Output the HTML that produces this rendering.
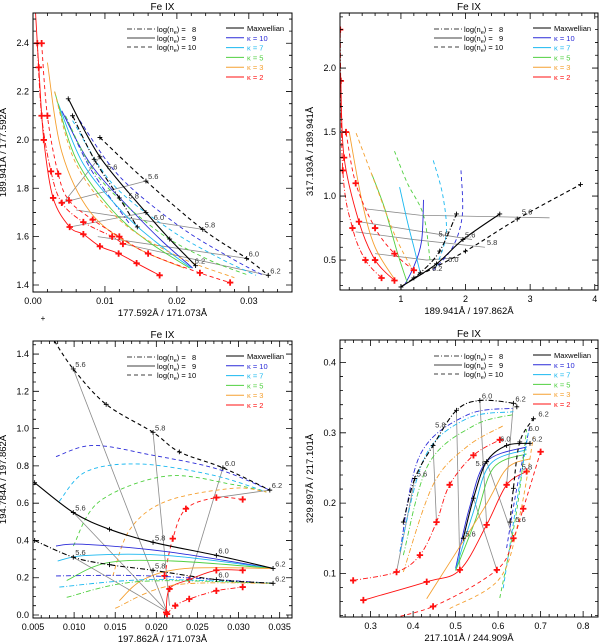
<!DOCTYPE html>
<html><head><meta charset="utf-8"><style>
html,body{margin:0;padding:0;background:#fff}
svg{display:block;font-family:"Liberation Sans",sans-serif}
</style></head><body>
<svg id="fig" width="600" height="644" viewBox="0 0 600 644"></svg>
<script>
// ---------- data (ratio curves) ----------
// Panel 1
const p1_k0_n10=[[0.0093,2.01],[0.0157,1.83],[0.0236,1.63],[0.0297,1.51],[0.0327,1.44]];
const p1_k0_n9=[[0.0049,2.17],[0.0093,1.93],[0.0157,1.70],[0.019,1.59],[0.0226,1.48]];
const p1_k0_n8=[[0.0055,2.1],[0.0085,1.92],[0.012,1.76],[0.0145,1.64]];
const p1_k10_n10=[[0.0065,2.08],[0.012,1.85],[0.02,1.65],[0.027,1.52],[0.032,1.44]];
const p1_k10_n9=[[0.004,2.12],[0.008,1.9],[0.014,1.7],[0.018,1.58],[0.0222,1.47]];
const p1_k10_n8=[[0.0045,2.1],[0.008,1.88],[0.0135,1.65]];
const p1_k7_n10=[[0.0055,2.08],[0.011,1.82],[0.019,1.63],[0.026,1.51],[0.031,1.44]];
const p1_k7_n9=[[0.0035,2.15],[0.007,1.9],[0.0125,1.7],[0.017,1.58],[0.022,1.47]];
const p1_k5_n10=[[0.0045,2.1],[0.009,1.85],[0.017,1.63],[0.024,1.51],[0.03,1.44]];
const p1_k5_n9=[[0.003,2.2],[0.006,1.92],[0.011,1.71],[0.016,1.58],[0.0218,1.47]];
const p1_k3_n10=[[0.003,2.2],[0.006,1.9],[0.012,1.67],[0.02,1.52],[0.028,1.43]];
const p1_k3_n9=[[0.002,2.32],[0.004,1.95],[0.008,1.7],[0.014,1.56],[0.021,1.47]];
const p1_k2_n10=[[0.0012,2.4],[0.002,2.1],[0.0035,1.86],[0.005,1.75],[0.0083,1.67],[0.012,1.6],[0.016,1.53],[0.0232,1.45],[0.0274,1.41]];
const p1_k2_n9=[[0.0003,2.55],[0.0008,2.3],[0.0015,2.0],[0.0028,1.76],[0.0051,1.64],[0.007,1.61],[0.0093,1.56],[0.0119,1.53],[0.0144,1.49],[0.0176,1.44]];
const p1_k2_n8=[[0.0006,2.4],[0.0012,2.1],[0.0025,1.87],[0.004,1.74],[0.007,1.66],[0.011,1.6],[0.0125,1.57]];
const p1_iso=[[[0.004,1.74],[0.0157,1.83]],[[0.006,1.71],[0.0236,1.63]],[[0.009,1.6],[0.0297,1.51]],[[0.0125,1.57],[0.0327,1.44]],[[0.0045,1.75],[0.0093,1.93]],[[0.0051,1.64],[0.0157,1.70]]];
const p1_lbl=[["5.6",0.0157,1.83],["5.8",0.0236,1.63],["6.0",0.0297,1.51],["6.2",0.0327,1.44],["5.6",0.0100,1.87],["5.8",0.0130,1.75],["6.0",0.0165,1.66],["6.2",0.0222,1.48]];
// Panel 2
const p2_k0_n10=[[1.2,0.36],[2.0,0.57],[2.8,0.82],[3.78,1.09]];
const p2_k0_n9=[[1.0,0.29],[1.55,0.47],[1.96,0.66],[2.53,0.86]];
const p2_k0_n8=[[1.0,0.29],[1.3,0.4],[1.6,0.57],[1.86,0.86]];
const p2_k10_n10=[[1.5,0.42],[1.8,0.6],[1.95,0.85],[1.93,1.2]];
const p2_k10_n9=[[1.05,0.3],[1.2,0.45],[1.32,0.65],[1.35,0.97]];
const p2_k7_n10=[[1.55,0.45],[1.7,0.7],[1.65,1.0],[1.5,1.28]];
const p2_k7_n9=[[1.3,0.4],[1.2,0.6],[1.1,0.8],[0.98,1.07]];
const p2_k5_n10=[[1.45,0.5],[1.35,0.85],[1.1,1.1],[0.9,1.35]];
const p2_k5_n9=[[1.1,0.32],[0.95,0.55],[0.75,0.9],[0.55,1.17]];
const p2_k3_n10=[[1.15,0.45],[0.9,0.7],[0.6,1.1],[0.3,1.5]];
const p2_k3_n9=[[0.9,0.35],[0.6,0.6],[0.4,0.95],[0.2,1.5]];
const p2_k2_n10=[[1.2,0.42],[0.9,0.55],[0.6,0.75],[0.3,1.1],[0.15,1.5]];
const p2_k2_n9=[[0.9,0.34],[0.6,0.5],[0.35,0.8],[0.12,1.3],[0.07,1.9]];
const p2_k2_n8=[[0.7,0.36],[0.45,0.5],[0.25,0.75],[0.1,1.2],[0.06,2.3]];
const p2_iso=[[[0.45,0.9],[1.3,0.85],[3.3,0.83]],[[0.35,0.8],[1.6,0.7],[2.1,0.66]],[[0.3,0.72],[1.2,0.66],[2.3,0.6]],[[0.6,0.55],[1.4,0.5],[1.9,0.52]]];
const p2_lbl=[["5.6",2.84,0.84],["5.6",1.96,0.66],["5.6",1.55,0.67],["5.8",2.3,0.6],["6.0",1.7,0.47],["6.2",1.45,0.4]];
// Panel 3
const p3_k0_n10=[[0.0076,1.47],[0.0099,1.32],[0.0139,1.13],[0.0196,0.98],[0.0228,0.875],[0.0281,0.79],[0.0338,0.67]];
const p3_k0_n9=[[0.0052,0.71],[0.0099,0.55],[0.0143,0.46],[0.0196,0.39],[0.0273,0.32],[0.0342,0.25]];
const p3_k0_n8=[[0.0052,0.40],[0.0099,0.31],[0.0143,0.27],[0.0196,0.24],[0.0273,0.19],[0.0342,0.17]];
const p3_k10_n10=[[0.0078,0.85],[0.0123,0.91],[0.0192,0.86],[0.0273,0.785],[0.0338,0.67]];
const p3_k7_n10=[[0.0082,0.61],[0.0115,0.77],[0.018,0.81],[0.0269,0.75],[0.0334,0.66]];
const p3_k5_n10=[[0.0099,0.37],[0.0131,0.61],[0.0212,0.745],[0.0293,0.70],[0.0334,0.66]];
const p3_k3_n10=[[0.0147,0.21],[0.0168,0.46],[0.0212,0.61],[0.0293,0.68],[0.0334,0.66]];
const p3_k2_n10=[[0.021,0.21],[0.022,0.41],[0.0236,0.57],[0.0273,0.63],[0.0305,0.62]];
const p3_k10_n9=[[0.0078,0.37],[0.011,0.38],[0.0212,0.34],[0.0342,0.25]];
const p3_k7_n9=[[0.008,0.29],[0.0115,0.32],[0.0212,0.32],[0.0342,0.25]];
const p3_k5_n9=[[0.0091,0.185],[0.014,0.28],[0.022,0.29],[0.0342,0.25]];
const p3_k3_n9=[[0.0155,0.077],[0.0184,0.19],[0.0236,0.25],[0.0342,0.25]];
const p3_k2_n9=[[0.0212,0.014],[0.0216,0.14],[0.024,0.19],[0.0273,0.24],[0.0305,0.24]];
const p3_k10_n8=[[0.0078,0.21],[0.0192,0.21],[0.0342,0.17]];
const p3_k7_n8=[[0.0082,0.15],[0.0192,0.19],[0.0342,0.17]];
const p3_k5_n8=[[0.0091,0.095],[0.018,0.18],[0.0342,0.17]];
const p3_k3_n8=[[0.015,0.036],[0.022,0.16],[0.0342,0.17]];
const p3_k2_n8=[[0.0213,0.005],[0.0223,0.05],[0.024,0.086],[0.0273,0.13],[0.0305,0.15]];
const p3_iso=[[[0.0099,1.32],[0.0212,0.03]],[[0.0196,0.98],[0.0216,0.05]],[[0.0281,0.79],[0.024,0.19]],[[0.0099,0.55],[0.0213,0.02]],[[0.0099,0.31],[0.0212,0.02]],[[0.0338,0.67],[0.0273,0.63]]];
const p3_lbl=[["5.6",0.0099,1.32],["5.8",0.0196,0.98],["6.0",0.0281,0.79],["6.2",0.0338,0.67],["5.6",0.0099,0.55],["5.8",0.0196,0.39],["6.0",0.0273,0.32],["6.2",0.0342,0.25],["5.6",0.0099,0.31],["5.8",0.0196,0.24],["6.0",0.0273,0.19],["6.2",0.0342,0.17]];
// Panel 4
const p4_k0_n8=[[0.377,0.173],[0.404,0.235],[0.447,0.282],[0.502,0.332],[0.557,0.346],[0.636,0.342],[0.644,0.337]];
const p4_k0_n9=[[0.518,0.15],[0.542,0.207],[0.573,0.259],[0.62,0.282],[0.675,0.285]];
const p4_k0_n10=[[0.628,0.173],[0.636,0.221],[0.651,0.287],[0.683,0.32]];
const p4_k10_n8=[[0.369,0.131],[0.416,0.268],[0.526,0.325],[0.636,0.335]];
const p4_k7_n8=[[0.369,0.131],[0.428,0.266],[0.526,0.32],[0.636,0.33]];
const p4_k5_n8=[[0.377,0.126],[0.436,0.255],[0.542,0.31],[0.636,0.326]];
const p4_k3_n8=[[0.377,0.102],[0.447,0.226],[0.526,0.28],[0.612,0.31]];
const p4_k2_n8=[[0.259,0.09],[0.361,0.102],[0.416,0.126],[0.455,0.173],[0.486,0.226],[0.542,0.268],[0.604,0.29]];
const p4_k10_n9=[[0.5,0.107],[0.532,0.192],[0.573,0.259],[0.667,0.28]];
const p4_k7_n9=[[0.5,0.105],[0.54,0.184],[0.581,0.255],[0.667,0.276]];
const p4_k5_n9=[[0.5,0.104],[0.546,0.175],[0.589,0.25],[0.667,0.27]];
const p4_k3_n9=[[0.432,0.064],[0.566,0.192],[0.62,0.249],[0.675,0.263]];
const p4_k2_n9=[[0.283,0.062],[0.432,0.088],[0.51,0.105],[0.573,0.169],[0.62,0.226],[0.667,0.245]];
const p4_k10_n10=[[0.62,0.136],[0.644,0.221],[0.675,0.311]];
const p4_k7_n10=[[0.612,0.079],[0.644,0.202],[0.671,0.3]];
const p4_k5_n10=[[0.604,0.065],[0.644,0.19],[0.667,0.305]];
const p4_k3_n10=[[0.486,0.05],[0.604,0.093],[0.651,0.183],[0.683,0.294]];
const p4_k2_n10=[[0.306,0.031],[0.447,0.053],[0.597,0.105],[0.636,0.15],[0.659,0.192],[0.7,0.273]];
const p4_iso=[[[0.404,0.235],[0.361,0.102]],[[0.447,0.282],[0.455,0.173]],[[0.502,0.332],[0.51,0.105]],[[0.557,0.346],[0.573,0.169]],[[0.636,0.342],[0.62,0.226]],[[0.542,0.207],[0.597,0.105]],[[0.573,0.259],[0.636,0.15]]];
const p4_lbl=[["5.6",0.404,0.235],["5.8",0.447,0.305],["6.0",0.557,0.346],["6.2",0.636,0.342],["5.6",0.518,0.15],["5.8",0.542,0.25],["6.0",0.6,0.285],["6.2",0.675,0.285],["5.6",0.636,0.17],["5.8",0.651,0.245],["6.0",0.667,0.3],["6.2",0.69,0.32]];
// tick labels
const p1_xt=["0.00","0.01","0.02","0.03"], p1_yt=["1.4","1.6","1.8","2.0","2.2","2.4"];
const p2_xt=["1","2","3","4"], p2_yt=["0.5","1.0","1.5","2.0"];
const p3_xt=["0.005","0.010","0.015","0.020","0.025","0.030","0.035"], p3_yt=["0.0","0.2","0.4","0.6","0.8","1.0","1.2","1.4"];
const p4_xt=["0.3","0.4","0.5","0.6","0.7","0.8"], p4_yt=["0.1","0.2","0.3","0.4"];

const COL={k0:"#000000",k10:"#2a2ad8",k7:"#1ab8f0",k5:"#50d040",k3:"#f5a030",k2:"#ff1010"};
const DASH={n8:"5,2,1,2",n9:"",n10:"4,3"};
const KNAME={k0:"maxwellian",k10:"kappa-10",k7:"kappa-7",k5:"kappa-5",k3:"kappa-3",k2:"kappa-2"};

const panels=[
 {id:"p1",L:33,R:292,T:13,B:292,x0:0,x1:0.036,y0:1.371,y1:2.525,xmaj:0.01,xmin:0.002,ymaj:0.2,ymin:0.05,xt:p1_xt,yt:p1_yt,xtitle:"177.592Å / 171.073Å",ytitle:"189.941Å / 177.592Å",
  curves:{k0_n10:p1_k0_n10,k0_n9:p1_k0_n9,k0_n8:p1_k0_n8,k10_n10:p1_k10_n10,k10_n9:p1_k10_n9,k10_n8:p1_k10_n8,k7_n10:p1_k7_n10,k7_n9:p1_k7_n9,k5_n10:p1_k5_n10,k5_n9:p1_k5_n9,k3_n10:p1_k3_n10,k3_n9:p1_k3_n9,k2_n10:p1_k2_n10,k2_n9:p1_k2_n9,k2_n8:p1_k2_n8},iso:p1_iso,lbl:p1_lbl},
 {id:"p2",L:340,R:598,T:13,B:290,x0:0.057,x1:4.05,y0:0.266,y1:2.43,xmaj:1,xmin:0.2,ymaj:0.5,ymin:0.1,xt:p2_xt,yt:p2_yt,xtitle:"189.941Å / 197.862Å",ytitle:"317.193Å / 189.941Å",
  curves:{k0_n10:p2_k0_n10,k0_n9:p2_k0_n9,k0_n8:p2_k0_n8,k10_n10:p2_k10_n10,k10_n9:p2_k10_n9,k7_n10:p2_k7_n10,k7_n9:p2_k7_n9,k5_n10:p2_k5_n10,k5_n9:p2_k5_n9,k3_n10:p2_k3_n10,k3_n9:p2_k3_n9,k2_n10:p2_k2_n10,k2_n9:p2_k2_n9,k2_n8:p2_k2_n8},iso:p2_iso,lbl:p2_lbl},
 {id:"p3",L:33,R:292,T:341,B:618,x0:0.005,x1:0.0365,y0:-0.016,y1:1.47,xmaj:0.005,xmin:0.001,ymaj:0.2,ymin:0.05,xt:p3_xt,yt:p3_yt,xtitle:"197.862Å / 171.073Å",ytitle:"194.784Å / 197.862Å",
  curves:{k0_n10:p3_k0_n10,k0_n9:p3_k0_n9,k0_n8:p3_k0_n8,k10_n10:p3_k10_n10,k7_n10:p3_k7_n10,k5_n10:p3_k5_n10,k3_n10:p3_k3_n10,k2_n10:p3_k2_n10,k10_n9:p3_k10_n9,k7_n9:p3_k7_n9,k5_n9:p3_k5_n9,k3_n9:p3_k3_n9,k2_n9:p3_k2_n9,k10_n8:p3_k10_n8,k7_n8:p3_k7_n8,k5_n8:p3_k5_n8,k3_n8:p3_k3_n8,k2_n8:p3_k2_n8},iso:p3_iso,lbl:p3_lbl},
 {id:"p4",L:340,R:598,T:340,B:617,x0:0.228,x1:0.835,y0:0.038,y1:0.432,xmaj:0.1,xmin:0.02,ymaj:0.1,ymin:0.02,xt:p4_xt,yt:p4_yt,xtitle:"217.101Å / 244.909Å",ytitle:"329.897Å / 217.101Å",
  curves:{k0_n8:p4_k0_n8,k0_n9:p4_k0_n9,k0_n10:p4_k0_n10,k10_n8:p4_k10_n8,k7_n8:p4_k7_n8,k5_n8:p4_k5_n8,k3_n8:p4_k3_n8,k2_n8:p4_k2_n8,k10_n9:p4_k10_n9,k7_n9:p4_k7_n9,k5_n9:p4_k5_n9,k3_n9:p4_k3_n9,k2_n9:p4_k2_n9,k10_n10:p4_k10_n10,k7_n10:p4_k7_n10,k5_n10:p4_k5_n10,k3_n10:p4_k3_n10,k2_n10:p4_k2_n10},iso:p4_iso,lbl:p4_lbl}
];

const NS="http://www.w3.org/2000/svg";
const svg=document.getElementById("fig");
function mk(tag,attrs,parent){const e=document.createElementNS(NS,tag);for(const k in attrs)e.setAttribute(k,attrs[k]);(parent||svg).appendChild(e);return e;}
function smooth(p){
 if(p.length<3)return "M"+p.map(q=>q[0].toFixed(1)+","+q[1].toFixed(1)).join("L");
 let d="M"+p[0][0].toFixed(1)+","+p[0][1].toFixed(1);
 for(let i=0;i<p.length-1;i++){
  const a=p[Math.max(0,i-1)],b=p[i],c=p[i+1],e=p[Math.min(p.length-1,i+2)];
  const c1=[b[0]+(c[0]-a[0])/6,b[1]+(c[1]-a[1])/6],c2=[c[0]-(e[0]-b[0])/6,c[1]-(e[1]-b[1])/6];
  d+="C"+c1[0].toFixed(1)+","+c1[1].toFixed(1)+" "+c2[0].toFixed(1)+","+c2[1].toFixed(1)+" "+c[0].toFixed(1)+","+c[1].toFixed(1);
 }
 return d;
}

panels.forEach(P=>{
 const sx=v=>P.L+(v-P.x0)/(P.x1-P.x0)*(P.R-P.L);
 const sy=v=>P.B-(v-P.y0)/(P.y1-P.y0)*(P.B-P.T);
 const g=mk("g",{});
 
 
 const cid="clip"+P.id;
 const cp=mk("clipPath",{id:cid},g);mk("rect",{x:P.L,y:P.T,width:P.R-P.L,height:P.B-P.T},cp);
 const plot=mk("g",{"clip-path":"url(#"+cid+")"},g);
 
 
 // isotherm gray lines
 P.iso.forEach(line=>{
  const pl=mk("polyline",{points:line.map(q=>sx(q[0])+","+sy(q[1])).join(" "),fill:"none",stroke:"#8a8a8a","stroke-width":0.8},plot);
  
  
 });
 // curves
 const keys=Object.keys(P.curves).sort((a,b)=>(a.startsWith("k0")?1:0)-(b.startsWith("k0")?1:0));
 keys.forEach(key=>{
  const [k,n]=key.split("_");
  const pts=P.curves[key].map(q=>[sx(q[0]),sy(q[1])]);
  const path=mk("path",{d:smooth(pts),fill:"none",stroke:COL[k],"stroke-width":k==="k0"?1.1:0.9,"stroke-dasharray":DASH[n]},plot);
  
  
  if(k==="k0"||k==="k2"){
   const s=k==="k2"?3.2:2.4, w=k==="k2"?1.8:0.9;
   pts.forEach(q=>{
    const m=mk("path",{d:`M${q[0]-s},${q[1]}H${q[0]+s}M${q[0]},${q[1]-s}V${q[1]+s}`,stroke:COL[k],"stroke-width":w},plot);
    
    
   });
  }
 });
 P.lbl.forEach(l=>{
  const t=mk("text",{x:sx(l[1])+2,y:sy(l[2])-2,"font-size":7.5,fill:"#333"},plot);
  t.textContent=l[0];
  
  
 });
 // frame
 const fr=mk("rect",{x:P.L,y:P.T,width:P.R-P.L,height:P.B-P.T,fill:"none",stroke:"#000","stroke-width":1},g);
 
 
 // ticks
 let td="";
 const eps=1e-9;
 for(let v=Math.ceil(P.x0/P.xmin-eps)*P.xmin;v<=P.x1+eps;v+=P.xmin){
  const x=sx(v);const maj=Math.abs(v/P.xmaj-Math.round(v/P.xmaj))<1e-4;const len=maj?6:3;
  td+=`M${x},${P.B}v${-len}M${x},${P.T}v${len}`;
 }
 for(let v=Math.ceil(P.y0/P.ymin-eps)*P.ymin;v<=P.y1+eps;v+=P.ymin){
  const y=sy(v);const maj=Math.abs(v/P.ymaj-Math.round(v/P.ymaj))<1e-4;const len=maj?6:3;
  td+=`M${P.L},${y}h${len}M${P.R},${y}h${-len}`;
 }
 const tk=mk("path",{d:td,stroke:"#000","stroke-width":0.8,fill:"none"},g);
 
 
 P.xt.forEach(s=>{
  const t=mk("text",{x:sx(parseFloat(s)),y:P.B+12,"font-size":9,"text-anchor":"middle"},g);t.textContent=s;
  
  
 });
 P.yt.forEach(s=>{
  const t=mk("text",{x:P.L-4,y:sy(parseFloat(s))+3,"font-size":9,"text-anchor":"end"},g);t.textContent=s;
  
  
 });
 const xt=mk("text",{x:(P.L+P.R)/2,y:P.B+24,"font-size":9.5,"text-anchor":"middle"},g);xt.textContent=P.xtitle;
 
 
 const ycx=P.L-27,ycy=(P.T+P.B)/2;
 const yt=mk("text",{x:ycx,y:ycy,"font-size":9.5,"text-anchor":"middle",transform:`rotate(-90 ${ycx} ${ycy})`},g);yt.textContent=P.ytitle;
 
 
 const ti=mk("text",{x:(P.L+P.R)/2,y:P.T-3,"font-size":10,"text-anchor":"middle"},g);ti.textContent="Fe IX";
 
 
 // legends
 const lg=mk("g",{},g);
 
 
 [["n8","8"],["n9","9"],["n10","10"]].forEach((r,i)=>{
  const y=P.T+16+i*9;
  const ln=mk("line",{x1:P.L+94,x2:P.L+122,y1:y,y2:y,stroke:"#000","stroke-width":0.8,"stroke-dasharray":DASH[r[0]]},lg);
  
  
  const t=mk("text",{x:P.L+124,y:y+3,"font-size":7.5},lg);
  t.innerHTML=`log(n<tspan font-size="5.5" dy="2">e</tspan><tspan dy="-2">) = ${r[1].length<2?"\u2007":""}${r[1]}</tspan>`;
  
  
 });
 const kg=mk("g",{},g);
 
 
 [["k0","Maxwellian"],["k10","κ = 10"],["k7","κ =  7"],["k5","κ =  5"],["k3","κ =  3"],["k2","κ =  2"]].forEach((r,i)=>{
  const y=P.T+15+i*9.8;
  const ln=mk("line",{x1:P.L+193,x2:P.L+211,y1:y,y2:y,stroke:COL[r[0]],"stroke-width":1},kg);
  
  
  const t=mk("text",{x:P.L+214,y:y+3,"font-size":7.5,fill:COL[r[0]],"xml:space":"preserve"},kg);
  t.textContent=r[1];
  
  
 });
});
const stray=mk("text",{x:43,y:321,"font-size":8,"text-anchor":"middle"});
stray.textContent="+";


</script>
</body></html>
